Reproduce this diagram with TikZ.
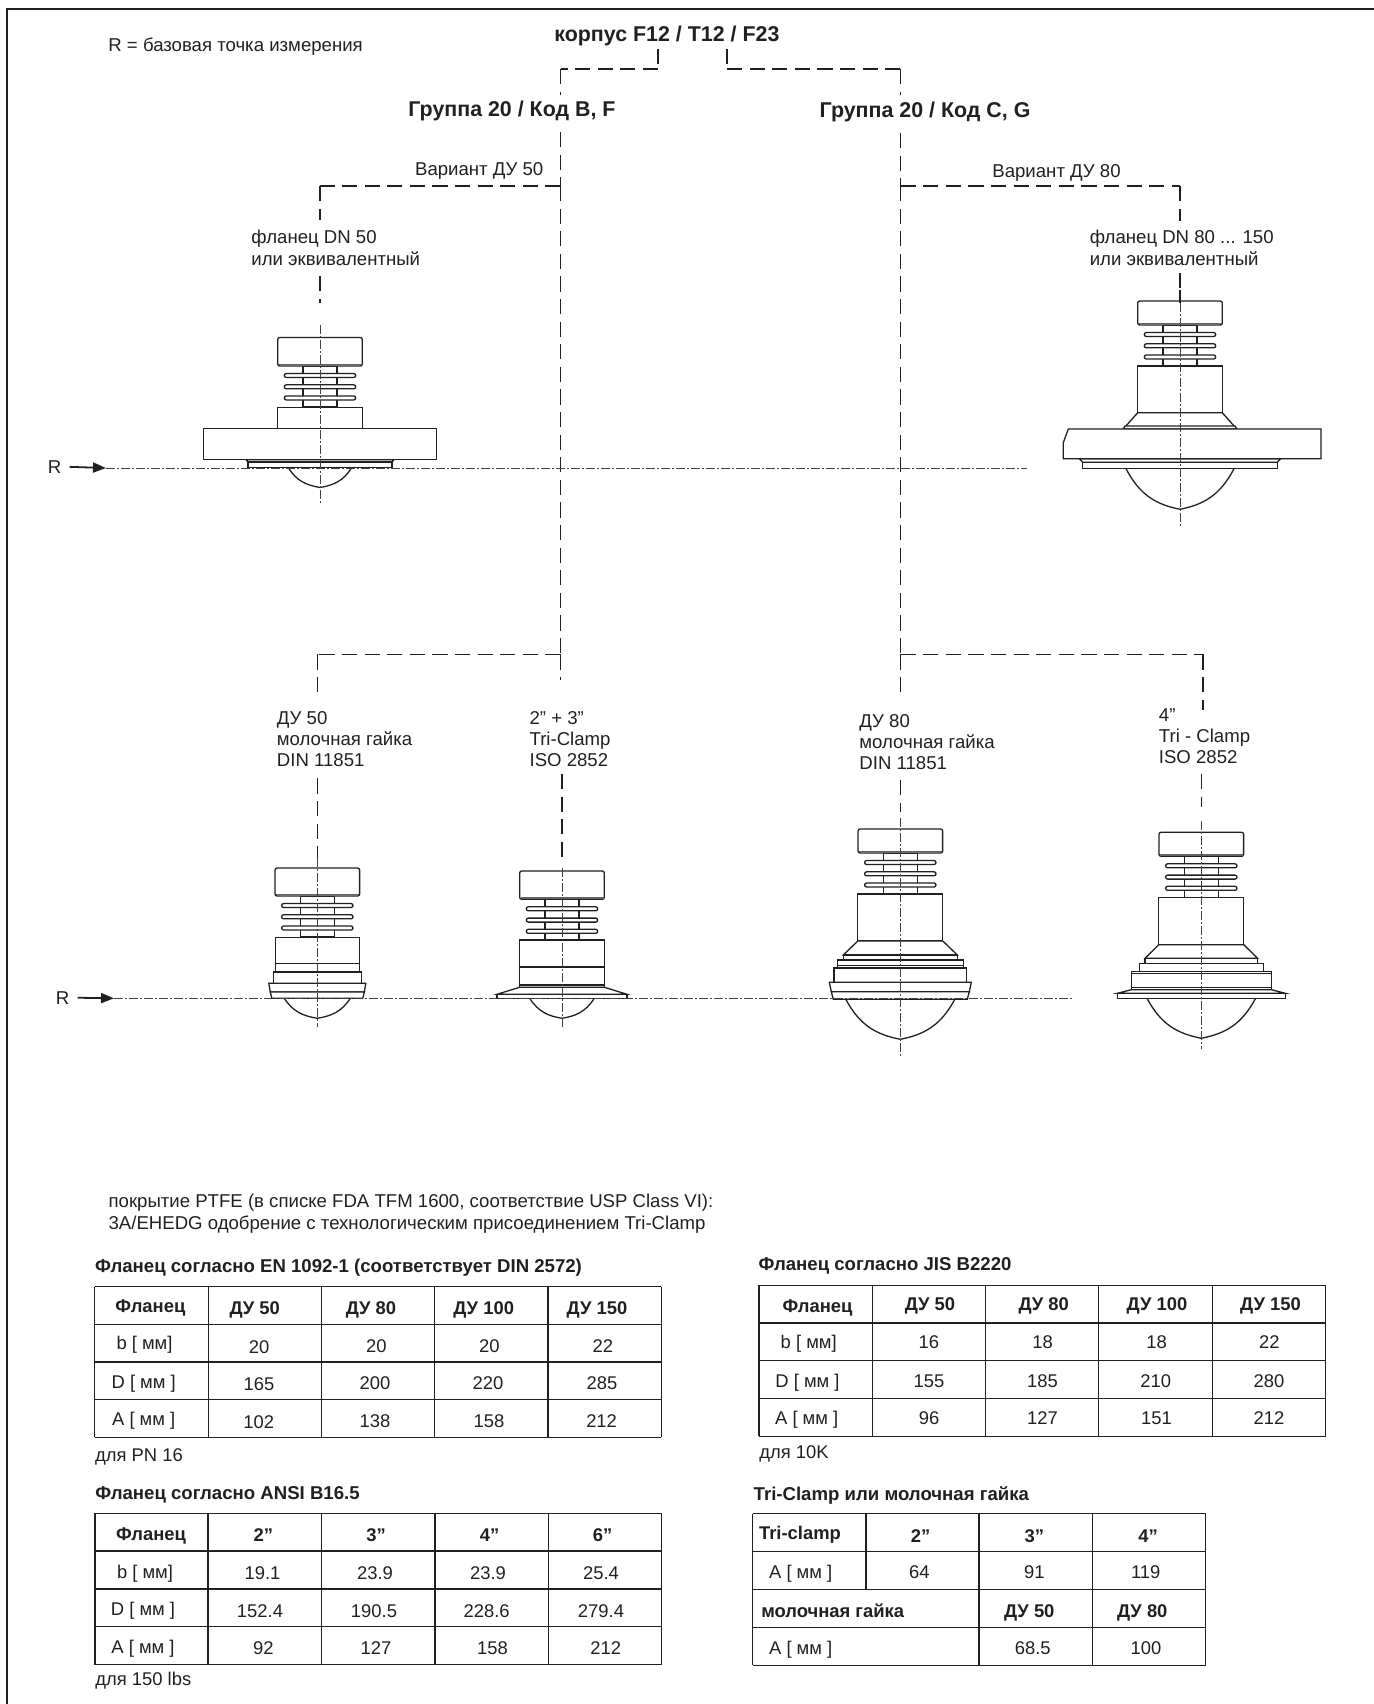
\documentclass[tikz,border=0pt]{standalone}
\usepackage{fontspec}
\setmainfont{Liberation Sans}
\usetikzlibrary{arrows.meta}
\definecolor{ink}{HTML}{231F20}
\tikzset{
  headtxt/.style={font=\fontsize{10.7}{12}\selectfont\bfseries, anchor=base west},
  noteh/.style={font=\fontsize{9.3}{11}\selectfont\bfseries, anchor=base west},
  lbl/.style={font=\fontsize{9.3}{11}\selectfont, anchor=base west},
  mlbl/.style={font=\fontsize{9.3}{10.6}\selectfont, anchor=north west, align=left},
  cell/.style={font=\fontsize{9.2}{11}\selectfont, anchor=base},
  bcell/.style={font=\fontsize{9.2}{11}\selectfont\bfseries, anchor=base},
  dashline/.style={line width=0.55pt, ink, dash pattern=on 7.6pt off 3.7pt},
  axisline/.style={line width=0.4pt, ink!85, dash pattern=on 4.5pt off 1.2pt on 0.6pt off 1.2pt},
  devline/.style={line width=0.65pt, ink, fill=white},
  gridline/.style={line width=0.7pt, ink},
  rarrow/.style={line width=0.9pt, ink, shorten <=4pt, -{Triangle[length=6.5pt,width=5pt]}}
}
% x, cap bottom, cap height, dome y, dome half width, dome tip, tiers
\newcommand{\sensor}[7]{
  \begin{scope}[shift={(#1,0)}]
    \draw[devline] (-17,#2) rectangle (17,#2+41);
    \draw[devline, rounded corners=1pt] (-42.3,#2-#3) -- (42.3,#2-#3) -- (42.3,#2) -- (-42.3,#2) -- cycle;
    \draw[line width=0.9pt, ink!70] (-41.5,#2-1.5) -- (41.5,#2-1.5);
    \foreach \f in {9.5, 20.8, 32}
      \draw[devline, rounded corners=1pt] (-35.7,#2+\f-2) rectangle (35.7,#2+\f+2);
    \foreach \ya/\wa/\yb/\wb in {#7}
      \draw[devline] (-\wa,\ya) -- (\wa,\ya) -- (\wb,\yb) -- (-\wb,\yb) -- cycle;
    \draw[devline, fill=none] (-#5,#4) .. controls (-0.74*#5,#4+0.66*#6-0.66*#4) and (-0.44*#5,#4+0.88*#6-0.88*#4) .. (0,#6)
      .. controls (0.44*#5,#4+0.88*#6-0.88*#4) and (0.74*#5,#4+0.66*#6-0.66*#4) .. (#5,#4);
  \end{scope}
}
\begin{document}
\begin{tikzpicture}[x=0.5pt, y=-0.5pt, every node/.style={inner sep=0pt, text=ink}]
\useasboundingbox (0,0) rectangle (1374,1704);
\coordinate (f0) at (7,1704);
\coordinate (f1) at (7,9);
\coordinate (f2) at (1374,9);
\draw[line width=1.2pt, ink] (f0) -- (f1) -- (f2);

% headings
\node[lbl] (rnote) at (108,51) {R = базовая точка измерения};
\node[headtxt] (title) at (554,41) {корпус F12 / T12 / F23};
\node[headtxt] (grp1) at (408,116) {Группа 20 / Код B, F};
\node[headtxt] (grp2) at (819.3,117) {Группа 20 / Код C, G};
\node[lbl] (var1) at (414.7,175) {Вариант ДУ 50};
\node[lbl] (var2) at (992,177) {Вариант ДУ 80};
\node[mlbl] (lab1) at (251,230) {фланец DN 50\\или эквивалентный};
\node[mlbl] (lab2) at (1089.4,230) {фланец DN 80 ... 150\\или эквивалентный};
\node[mlbl] (lab3) at (276.5,711) {ДУ 50\\молочная гайка\\DIN 11851};
\node[mlbl] (lab4) at (529.2,711) {2” + 3”\\Tri-Clamp\\ISO 2852};
\node[mlbl] (lab5) at (859,714) {ДУ 80\\молочная гайка\\DIN 11851};
\node[mlbl] (lab6) at (1158.5,708) {4”\\Tri - Clamp\\ISO 2852};

% connectors
\coordinate (t0) at (658,49);
\coordinate (t1) at (658,69);
\coordinate (t2) at (560.5,69);
\coordinate (t3) at (560.5,95);
\coordinate (t4) at (727,49);
\coordinate (t5) at (727,69);
\coordinate (t6) at (900.5,69);
\coordinate (t7) at (900.5,95);
\coordinate (a0) at (560.5,132);
\coordinate (a1) at (560.5,186);
\coordinate (a2) at (320,186);
\coordinate (a3) at (320,220);
\coordinate (a4) at (320,276);
\coordinate (a5) at (320,303);
\coordinate (a6) at (560.5,654.3);
\coordinate (a7) at (560.5,680);
\coordinate (a8) at (317.6,654.3);
\coordinate (a9) at (317.6,692.3);
\coordinate (a10) at (317.6,778.3);
\coordinate (a11) at (317.6,858);
\coordinate (a12) at (562,774);
\coordinate (a13) at (562,858);
\coordinate (b0) at (900.5,133);
\coordinate (b1) at (900.5,186);
\coordinate (b2) at (1180,186);
\coordinate (b3) at (1180,220.7);
\coordinate (b4) at (1180,272.7);
\coordinate (b5) at (1180,290);
\coordinate (b6) at (900.5,654.3);
\coordinate (b7) at (900.5,692.7);
\coordinate (b8) at (1203,654.3);
\coordinate (b9) at (1203,710);
\coordinate (b10) at (900.5,780);
\coordinate (b11) at (900.5,812);
\coordinate (b12) at (1201.5,774);
\coordinate (b13) at (1201.5,807);
\foreach \from/\to in {t0/t1, t1/t2, t2/t3, t4/t5, t5/t6, t6/t7, a0/a1, a1/a6, a1/a2, a2/a3, a4/a5,
    a6/a7, a6/a8, a8/a9, a10/a11, a12/a13, b0/b1, b1/b6, b1/b2, b2/b3, b4/b5, b6/b7, b6/b8, b8/b9, b10/b11, b12/b13}
  \draw[dashline] (\from) -- (\to);

% sensors
\sensor{320}{366}{28.5}{468}{31.5}{487.5}{407.3/42.3/428.3/42.3, 428.3/116.3/459.7/116.3, 459.7/74/462/72, 462/72/467.7/72}
\sensor{1180}{325}{24}{468.7}{54}{509.3}{366/42.3/412.7/42.3, 412.7/42.3/429/56.7, 426/55/429/56.7, 458.7/100.7/462.3/97.3, 462.3/97.3/468.7/97.3}
\draw[devline] (1068.3,429) -- (1321,429) -- (1321,458.7) -- (1063.3,458.7) -- (1063.3,442.7) -- cycle;
\sensor{317.3}{896}{28}{998.3}{33}{1018.3}{937.3/42/963.3/42, 963.3/42/972/42, 972/44/983.3/44, 983.3/48.5/992/47, 992/47/998.3/45.5}
\sensor{562}{899.3}{28.3}{998.7}{32}{1018.3}{940/42.5/967/42.5, 967/42.5/985/42.5, 985/42.5/987.3/42.5, 987.3/42.5/994.3/65, 994.3/65/998.7/65}
\sensor{900.3}{853}{24}{999.3}{54.5}{1039.3}{894/42.5/941/42.5, 941/42.5/955/57, 955/57/960/57, 960/63/965.3/63, 965.3/63/968/63, 968/66.3/982.3/66.3, 982.3/71/991.7/69, 991.7/69/999.3/67}
\sensor{1201.3}{856.3}{24}{998.3}{54.3}{1038.3}{897.7/42.5/944.7/42.5, 944.7/42.5/958.3/56.3, 958.3/56.3/963.3/56.3, 963.3/62/971.7/62, 971.7/70/973.3/70, 973.3/70/987.7/70, 987.7/70/989.7/70, 989.7/70/993.3/84, 993.3/84/998.3/84}

% axes
\coordinate (c1a) at (320,325);
\coordinate (c1b) at (320,504);
\coordinate (c2a) at (1180,303);
\coordinate (c2b) at (1180,526.7);
\coordinate (c3a) at (317.6,858);
\coordinate (c3b) at (317.6,1026.7);
\coordinate (c4a) at (562,868);
\coordinate (c4b) at (562,1027);
\coordinate (c5a) at (900.3,818);
\coordinate (c5b) at (900.3,1056);
\coordinate (c6a) at (1201.3,821);
\coordinate (c6b) at (1201.3,1049.3);
\coordinate (u0) at (106,468);
\coordinate (u1) at (1027,468);
\coordinate (l0) at (114,998.3);
\coordinate (l1) at (1073,998.3);
\foreach \from/\to in {c1a/c1b, c2a/c2b, c3a/c3b, c4a/c4b, c5a/c5b, c6a/c6b, u0/u1, l0/l1}
  \draw[axisline] (\from) -- (\to);
\draw[line width=0.6pt, ink] (b5) -- (c2a);
\node[lbl] (r1) at (47.5,473) {R};
\node[lbl] (r2) at (55.5,1004) {R};
\draw[rarrow] (r1.east) -- (u0);
\draw[rarrow] (r2.east) -- (l0);

% note and table titles
\node[mlbl] (note) at (108.2,1194) {покрытие PTFE (в списке FDA TFM 1600, соответствие USP Class VI):\\3A/EHEDG одобрение с технологическим присоединением Tri-Clamp};
\node[noteh] (h1) at (94.7,1272) {Фланец согласно EN 1092-1 (соответствует DIN 2572)};
\node[noteh] (h2) at (95,1499) {Фланец согласно ANSI B16.5};
\node[noteh] (h3) at (758.2,1270) {Фланец согласно JIS B2220};
\node[noteh] (h4) at (753.3,1500) {Tri-Clamp или молочная гайка};
\node[cell, anchor=base west] (n1) at (94.7,1461.5) {для PN 16};
\node[cell, anchor=base west] (n2) at (95,1685.8) {для 150 lbs};
\node[cell, anchor=base west] (n3) at (759,1458) {для 10K};

% table grids
\foreach \xa/\xb/\ya/\yb in {
    94.7/661.4/1286.7/1286.7, 94.7/661.4/1324.3/1324.3, 94.7/661.4/1362/1362, 94.7/661.4/1399.7/1399.7, 94.7/661.4/1437.3/1437.3,
    94.7/94.7/1286.7/1437.3, 208.2/208.2/1286.7/1437.3, 321.2/321.2/1286.7/1437.3, 434.3/434.3/1286.7/1437.3, 547.8/547.8/1286.7/1437.3, 661.2/661.2/1286.7/1437.3,
    95/661.6/1513.3/1513.3, 95/661.6/1551/1551, 95/661.6/1589/1589, 95/661.6/1626.7/1626.7, 95/661.6/1664.7/1664.7,
    95/95/1513.3/1664.7, 208/208/1513.3/1664.7, 321.4/321.4/1513.3/1664.7, 434.8/434.8/1513.3/1664.7, 548.2/548.2/1513.3/1664.7, 661.6/661.6/1513.3/1664.7,
    759/1325.7/1285.3/1285.3, 759/1325.7/1323/1323, 759/1325.7/1360.7/1360.7, 759/1325.7/1398.3/1398.3, 759/1325.7/1436.3/1436.3,
    759/759/1285.3/1436.3, 872.2/872.2/1285.3/1436.3, 985.5/985.5/1285.3/1436.3, 1098.7/1098.7/1285.3/1436.3, 1212.3/1212.3/1285.3/1436.3, 1325.5/1325.5/1285.3/1436.3,
    752.7/1205.9/1513.7/1513.7, 752.7/1205.9/1551.7/1551.7, 752.7/1205.9/1589.3/1589.3, 752.7/1205.9/1627.3/1627.3, 752.7/1205.9/1665.3/1665.3,
    752.7/752.7/1513.7/1665.3, 866/866/1513.7/1589.3, 979/979/1513.7/1665.3, 1092.3/1092.3/1513.7/1665.3, 1205.7/1205.7/1513.7/1665.3}
  \draw[gridline] (\xa,\ya) -- (\xb,\yb);

% table cells
\foreach \x/\y/\txt [count=\i] in {
    150.4/1306/Фланец, 254.7/1308.3/ДУ 50, 371/1307.7/ДУ 80, 483.7/1307.7/ДУ 100, 597/1307.7/ДУ 150,
    151/1534/Фланец, 263.4/1534.7/2”, 376/1534.7/3”, 489.7/1534.7/4”, 602.7/1534.7/6”,
    817.6/1305.7/Фланец, 930/1304.3/ДУ 50, 1043.7/1304.3/ДУ 80, 1157/1304.3/ДУ 100, 1270.5/1304.3/ДУ 150,
    800/1533.3/Tri-clamp, 920.7/1535.7/2”, 1034.3/1535.7/3”, 1148/1535.7/4”,
    832.7/1610.7/молочная гайка, 1029.3/1610.7/ДУ 50, 1142.3/1610.7/ДУ 80}
  \node[bcell] (h\i) at (\x,\y+6.5) {\txt};
\foreach \x/\y/\txt [count=\i] in {
    144.5/1343.3/b [ мм], 259.2/1346.7/20, 376.3/1346/20, 489.4/1346/20, 602.9/1346/22,
    143.7/1381.7/D [ мм ], 259/1384.3/165, 375/1382.7/200, 488/1382.7/220, 602/1382.7/285,
    143.7/1419.3/A [ мм ], 258.8/1422.3/102, 375/1420.7/138, 489/1420.7/158, 601.6/1420.7/212,
    145/1571.7/b [ мм], 262.5/1573.3/19.1, 375/1573.3/23.9, 488/1573.3/23.9, 601/1573.3/25.4,
    143/1609.3/D [ мм ], 260/1611/152.4, 374/1611/190.5, 486.6/1611/228.6, 601/1611/279.4,
    143/1647.3/A [ мм ], 263.4/1648.3/92, 376/1648.3/127, 492.4/1648.3/158, 605.8/1648.3/212,
    808.7/1342.3/b [ мм], 928.8/1342.3/16, 1042.5/1342.3/18, 1156.5/1342.3/18, 1269.3/1342.3/22,
    807.5/1380.7/D [ мм ], 929/1380.7/155, 1042.5/1380.7/185, 1155.7/1380.7/210, 1269/1380.7/280,
    806.7/1418.3/A [ мм ], 929/1418.3/96, 1042.5/1418.3/127, 1156.5/1418.3/151, 1269/1418.3/212,
    800.7/1572.3/A [ мм ], 919.3/1572.3/64, 1034.3/1572.3/91, 1145.7/1572.3/119,
    800.7/1647.7/A [ мм ], 1032.7/1647.7/68.5, 1146/1647.7/100}
  \node[cell] (c\i) at (\x,\y+6.5) {\txt};
\end{tikzpicture}
\end{document}
